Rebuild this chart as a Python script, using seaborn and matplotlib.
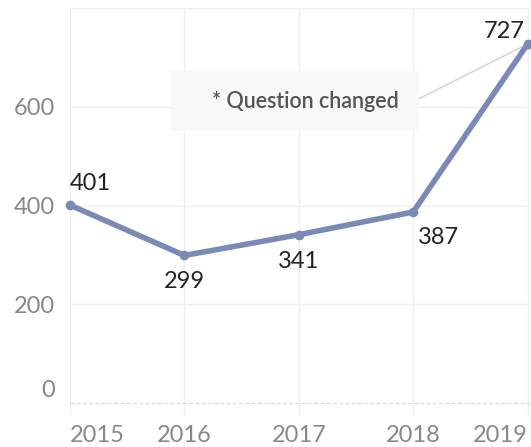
import matplotlib
matplotlib.use("Agg")
import matplotlib.pyplot as plt
import matplotlib.transforms as mtransforms
import pandas as pd
import seaborn as sns

years = [2015, 2016, 2017, 2018, 2019]
counts = [401, 299, 341, 387, 727]
y_ticks = [0, 200, 400, 600]
note = "* Question changed"

df = pd.DataFrame({"year": years, "count": counts})

sns.set_style("white")
plt.rcParams["font.family"] = ["Lato", "DejaVu Sans"]

fig = plt.figure(figsize=(5.31, 4.47), dpi=100)
ax = fig.add_axes([70 / 531, 1 - 415 / 447, 461 / 531, (415 - 8) / 447])

sns.lineplot(data=df, x="year", y="count", ax=ax, color="#7b89b6",
             linewidth=4, marker="o", markersize=7, markeredgewidth=0,
             clip_on=False, zorder=5)

ax.set_xlim(2015, 2019.03)
ax.set_ylim(-24, 800)
for s in ax.spines.values():
    s.set_visible(False)

# grid
for y in y_ticks[1:] + [800]:
    ax.axhline(y, color="#efefef", lw=1, zorder=0)
for x in years:
    ax.axvline(x, color="#efefef", lw=1, zorder=0)
ax.axhline(0, color="#d8d8d8", lw=0.9, ls=(0, (3, 2)), zorder=1)

ax.set_yticks(y_ticks)
ax.set_xticks(years)
ax.tick_params(axis="both", length=0, labelsize=17, labelcolor="#888888")
ax.tick_params(axis="y", pad=11)
ax.tick_params(axis="x", pad=7)
ax.set_xlabel("")
ax.set_ylabel("")

# tableau-like edge label placement
xl = ax.get_xticklabels()
xl[0].set_ha("left")
xl[-1].set_ha("right")
yl = ax.get_yticklabels()
yl[0].set_transform(yl[0].get_transform() +
                    mtransforms.ScaledTranslation(0, 15 / 100, fig.dpi_scale_trans))

# value labels
offs = [(0, 11, "left", "bottom"), (0, -16, "center", "top"), (0, -16, "center", "top"),
        (5, -15, "left", "top"), (-3, 2, "right", "bottom")]
for x, y, (dx, dy, ha, va) in zip(years, counts, offs):
    ax.annotate(str(y), (x, y), xytext=(dx, dy), textcoords="offset pixels",
                ha=ha, va=va, fontsize=17, color="#222222", zorder=6)

# note box with leader line
ax.annotate("", xy=(2019, 727), xycoords="data",
            xytext=(2018.03, 614), textcoords="data",
            arrowprops=dict(arrowstyle="-", color="#d0d0d0", lw=1))
ax.add_patch(plt.Rectangle((171, 447 - 131), 248, 60, transform=None,
                           facecolor="#f8f8f8", edgecolor="none", zorder=3))
fig.text(305 / 531, 1 - 102 / 447, note, ha="center", va="center",
         fontsize=15.5, color="#555555", fontweight="semibold", zorder=4)

fig.savefig("out.png", dpi=100)
